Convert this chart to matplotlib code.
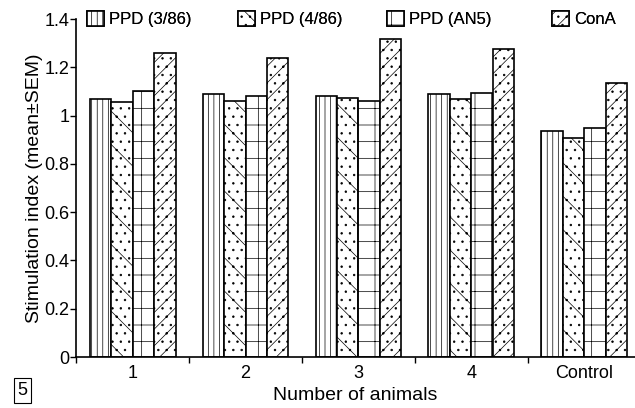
import numpy as np
import matplotlib
matplotlib.use("Agg")
import matplotlib.pyplot as plt

plt.rcParams["font.family"] = ["Liberation Sans", "DejaVu Sans"]
plt.rcParams["hatch.linewidth"] = 0.5

groups = ["1", "2", "3", "4", "Control"]
series = ["PPD (3/86)", "PPD (4/86)", "PPD (AN5)", "ConA"]
ppd_3_86 = [1.069, 1.088, 1.082, 1.088, 0.936]
ppd_4_86 = [1.058, 1.060, 1.074, 1.069, 0.906]
ppd_an5 = [1.103, 1.082, 1.060, 1.095, 0.950]
cona = [1.258, 1.241, 1.316, 1.275, 1.134]
yticks = [0, 0.2, 0.4, 0.6, 0.8, 1.0, 1.2, 1.4]
ytick_labels = ["0", "0.2", "0.4", "0.6", "0.8", "1", "1.2", "1.4"]


def main():
    fig = plt.figure(figsize=(6.35, 4.08), dpi=100)
    ax = fig.add_axes([0.12, 0.125, 0.88, 0.828])

    x = np.arange(len(groups))
    w = 0.19
    hatches = ["|||", "..\\", "-|", "//.."]
    data = [ppd_3_86, ppd_4_86, ppd_an5, cona]
    bars = []
    for i, (vals, name) in enumerate(zip(data, series)):
        b = ax.bar(x + (i - 1.5) * w, vals, w, facecolor="white", edgecolor="black",
                   linewidth=1.2, hatch=hatches[i], label=name)
        bars.append(b)

    ax.set_xlim(-0.5, 4.45)
    ax.set_ylim(0, 1.4)
    ax.set_yticks(yticks)
    ax.set_yticklabels(ytick_labels, fontsize=13)
    ax.set_xticks(np.arange(-0.5, 4.0, 1.0))
    ax.set_xticklabels([])
    ax.set_xticks(x, minor=True)
    ax.set_xticklabels(groups, minor=True, fontsize=13)
    ax.tick_params(axis="x", which="minor", length=0, pad=6)
    ax.tick_params(axis="x", which="major", length=4, width=1)
    ax.tick_params(axis="y", length=4, width=1, pad=1)
    for s in ["top", "right"]:
        ax.spines[s].set_visible(False)
    ax.spines["left"].set_linewidth(1.2)
    ax.spines["bottom"].set_linewidth(1.2)

    ax.set_ylabel("Stimulation index (mean±SEM)", fontsize=14, labelpad=1)
    ax.set_xlabel("Number of animals", fontsize=14, labelpad=3)

    # one legend per entry, so each sits where it does in the original
    legend_x = [87, 238, 387, 552]
    for b, name, lx in zip(bars, series, legend_x):
        leg = fig.legend(handles=[b], labels=[name], loc="center left",
                         bbox_to_anchor=(lx / 635, 1 - 19 / 408), frameon=False,
                         fontsize=12, handlelength=1.0, handleheight=1.0,
                         handletextpad=0.3, borderpad=0, borderaxespad=0)
        fig.add_artist(leg)

    fig.text(0.035, 0.043, "5", fontsize=13, ha="center", va="center",
             bbox=dict(boxstyle="square,pad=0.2", facecolor="white",
                       edgecolor="black", linewidth=0.8))

    fig.savefig("out.png", dpi=100)
    plt.close(fig)


if __name__ == "__main__":
    main()
